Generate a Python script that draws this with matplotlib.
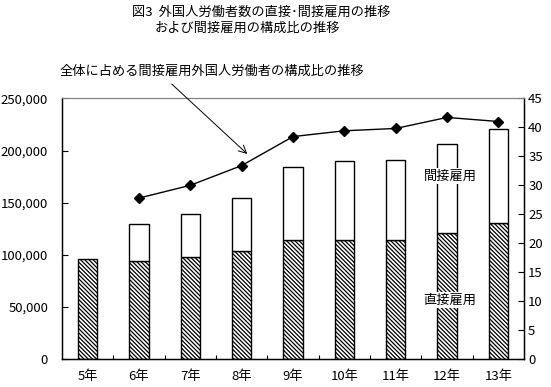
import numpy as np
import matplotlib
matplotlib.use("Agg")
import matplotlib.pyplot as plt
from matplotlib.ticker import FuncFormatter, FixedLocator

plt.rcParams['font.family'] = ['Noto Sans CJK JP', 'DejaVu Sans']
plt.rcParams['hatch.linewidth'] = 0.9

years = ['5年', '6年', '7年', '8年', '9年', '10年', '11年', '12年', '13年']
direct = [96000, 94000, 97700, 103500, 114000, 114700, 114700, 120700, 130300]
indirect = [np.nan, 36000, 41600, 51200, 70400, 74800, 76400, 85800, 90700]
indirect_rate = [np.nan, 27.8, 30.0, 33.4, 38.4, 39.4, 39.8, 41.7, 41.0]

title1 = '図3  外国人労働者数の直接･間接雇用の推移'
title2 = 'および間接雇用の構成比の推移'
note = '全体に占める間接雇用外国人労働者の構成比の推移'
label_indirect = '間接雇用'
label_direct = '直接雇用'

W, H = 551, 387
fig = plt.figure(figsize=(W / 100, H / 100), dpi=100)
ax = fig.add_axes([62 / W, 1 - 359.3 / H, (524 - 62) / W, (359.3 - 98.3) / H])
x = np.arange(len(years))
fs = 9.5

ax.bar(x, direct, width=0.38, color='white', edgecolor='black', linewidth=1.0, hatch='\\' * 8, zorder=2)
ax.bar(x, indirect, width=0.38, bottom=direct, color='white', edgecolor='black', linewidth=1.0, zorder=2)

ax.set_xlim(-0.5, len(years) - 0.5)
ax.set_ylim(0, 250000)
ax.set_yticks(np.arange(0, 250001, 50000))
ax.yaxis.set_major_formatter(FuncFormatter(lambda v, p: f'{int(v):,}'))
ax.set_xticks(x)
ax.set_xticklabels(years)
ax.xaxis.set_minor_locator(FixedLocator(np.arange(0.5, len(years) - 1, 1.0)))
ax.tick_params(axis='x', which='major', length=0, pad=8, labelsize=fs)
ax.tick_params(axis='x', which='minor', direction='in', length=3, width=0.8)
ax.tick_params(axis='y', direction='in', length=4, width=0.8, pad=10, labelsize=fs)
for s in ['left', 'bottom', 'right']:
    ax.spines[s].set_linewidth(1.0)
ax.spines['top'].set_color('#808080')

ax2 = ax.twinx()
ax2.set_ylim(0, 45)
ax2.set_yticks(np.arange(0, 46, 5))
ax2.tick_params(axis='y', direction='in', length=4, width=0.8, pad=3, labelsize=fs)
ax2.plot(x, indirect_rate, color='black', linewidth=1.0, marker='D', markersize=5.5, zorder=3)
ax2.spines['top'].set_color('#808080')

fig.text(450 / W, 1 - 176 / H, label_indirect, ha='center', va='center', fontsize=fs,
         bbox=dict(facecolor='white', edgecolor='none', pad=1))
fig.text(450 / W, 1 - 300 / H, label_direct, ha='center', va='center', fontsize=fs,
         bbox=dict(facecolor='white', edgecolor='none', pad=1))

fig.text(261 / W, 1 - 12 / H, title1, ha='center', va='center', fontsize=fs)
fig.text(247 / W, 1 - 28 / H, title2, ha='center', va='center', fontsize=fs)
fig.text(60 / W, 1 - 71 / H, note, ha='left', va='center', fontsize=fs)

ax2.annotate('', xy=(247.3 / W, 1 - 154 / H), xycoords='figure fraction',
             xytext=(171.7 / W, 1 - 84 / H), textcoords='figure fraction',
             arrowprops=dict(arrowstyle='->', color='black', linewidth=0.7,
                             shrinkA=0, shrinkB=0, mutation_scale=14))

fig.savefig('out.png', dpi=100)
